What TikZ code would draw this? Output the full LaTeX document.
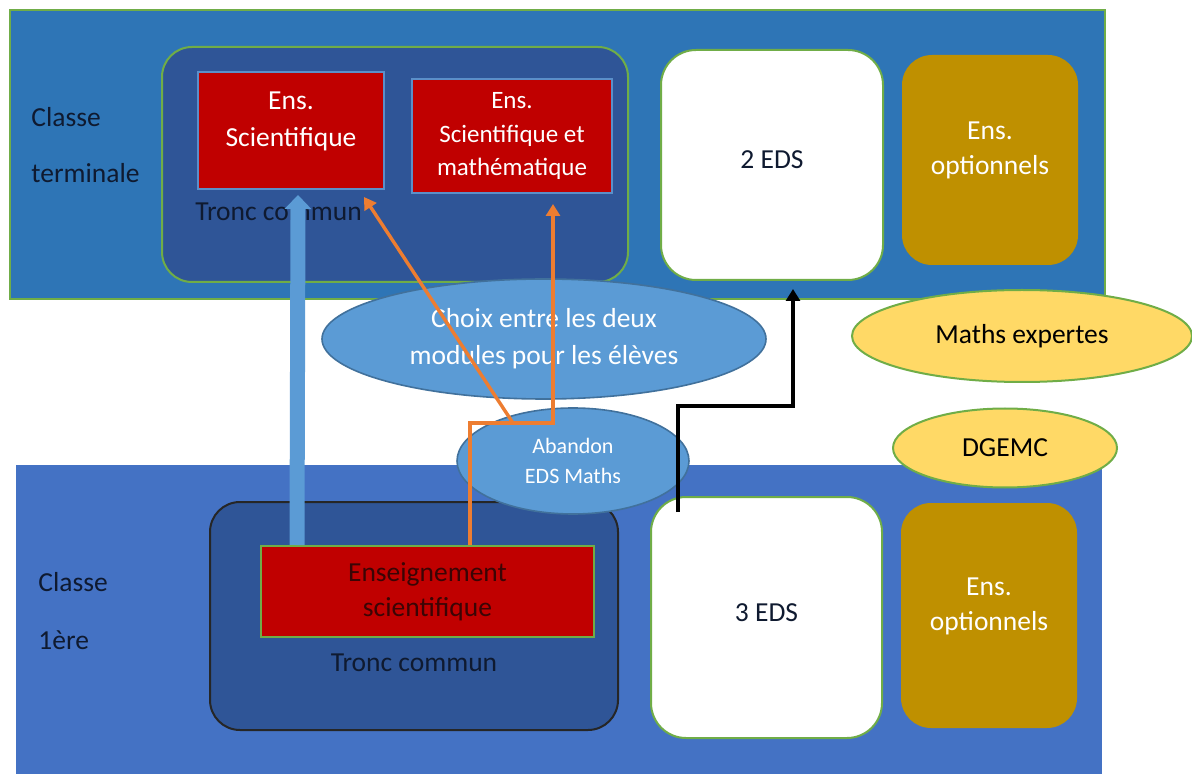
\documentclass[tikz,border=0pt]{standalone}
\usepackage{fontspec}
\setmainfont{Carlito}
\usetikzlibrary{shapes.geometric,arrows.meta}
\definecolor{topband}{HTML}{2E75B6}
\definecolor{botband}{HTML}{4472C4}
\definecolor{dkblue}{HTML}{2F5597}
\definecolor{myred}{HTML}{C00000}
\definecolor{mygold}{HTML}{BF9000}
\definecolor{ellblue}{HTML}{5B9BD5}
\definecolor{ellborder}{HTML}{41719C}
\definecolor{myyellow}{HTML}{FFD966}
\definecolor{mygreen}{HTML}{70AD47}
\definecolor{redborder}{HTML}{5B8FC9}
\definecolor{myorange}{HTML}{ED7D31}
\definecolor{darktext}{HTML}{0F1A30}
\definecolor{maroon}{HTML}{3A0505}
\tikzset{
  basefont/.style={font=\fontsize{13.75}{18.5}\selectfont},
  band/.style={rectangle, inner sep=0pt},
  cont/.style={rectangle, rounded corners=15pt, fill=dkblue, inner sep=0pt},
  redbox/.style={rectangle, fill=myred, draw=redborder, line width=1pt, inner sep=0pt, text=white, align=center},
  whitebox/.style={rectangle, fill=white, draw=mygreen, line width=1pt, rounded corners=17.5pt, inner sep=0pt, text=darktext},
  goldbox/.style={rectangle, fill=mygold, rounded corners=15pt, inner sep=0pt},
  blueell/.style={ellipse, fill=ellblue, draw=ellborder, line width=0.8pt, text=white, align=center, inner sep=0pt},
  yell/.style={ellipse, fill=myyellow, draw=mygreen, line width=1pt, text=black, inner sep=0pt},
  lbl/.style={text=darktext, inner sep=0pt},
  orng/.style={draw=myorange, line width=1.7pt, -{Triangle[width=7pt,length=6pt]}},
  blk/.style={draw=black, line width=1.6pt, -{Triangle[width=7pt,length=6pt]}},
  bluearrow/.style={draw=ellblue, line width=7.5pt, -{Triangle[width=13pt,length=7pt]}},
}
\begin{document}
\begin{tikzpicture}[x=0.5pt,y=-0.5pt,basefont]
\useasboundingbox (0,0) rectangle (1192,774);
\clip (0,0) rectangle (1192,774);
% bands
\node[band, fill=topband, draw=mygreen, line width=1pt, minimum width=547.5pt, minimum height=144.5pt] (top) at (557.5,154.5) {};
\node[band, fill=botband, minimum width=543pt, minimum height=155pt] (bot) at (559,620) {};
% class labels
\node[lbl, anchor=west] (ct1) at (31,117) {Classe};
\node[lbl, anchor=west] (ct2) at (31,173) {terminale};
\node[lbl, anchor=west] (cp1) at (38,582) {Classe};
\node[lbl, anchor=west] (cp2) at (38,640) {1ère};
% top container
\node[cont, draw=mygreen, line width=1pt, minimum width=233pt, minimum height=117.5pt] (tc) at (395,164.5) {};
\node[redbox, minimum width=93pt, minimum height=58.5pt,
      label={[name=red1t, text=white, align=center, yshift=4.5pt]center:Ens.\\Scientifique}] (red1) at (291,130.5) {};
\node[redbox, minimum width=100pt, minimum height=57pt,
      font=\fontsize{12.5}{16.5}\selectfont] (red2) at (512,136) {Ens.\\Scientifique et\\mathématique};
\node[lbl, anchor=west] (tct) at (195,212) {Tronc commun};
% top right boxes
\node[whitebox, minimum width=111pt, minimum height=115pt] (eds2) at (772,165) {\raisebox{5pt}{2 EDS}};
\node[goldbox, minimum width=88pt, minimum height=105pt,
      label={[name=opt1t, text=white, align=center, yshift=4.75pt, font=\fontsize{13.75}{17.5}\selectfont]center:Ens.\\optionnels}] (opt1) at (990,160) {};
% bottom container
\node[cont, draw=black!85, line width=1pt, minimum width=204pt, minimum height=114pt] (bc) at (414,616) {};
\node[redbox, draw=mygreen, text=maroon, minimum width=166.5pt, minimum height=45.5pt,
      font=\fontsize{13.75}{17.5}\selectfont] (redB) at (427.5,591.5) {Enseignement\\scientifique};
\node[lbl] (bct) at (414,663) {Tronc commun};
\node[whitebox, minimum width=115.5pt, minimum height=120.5pt] (eds3) at (766.5,617.5) {\raisebox{4.75pt}{3 EDS}};
\node[goldbox, minimum width=88pt, minimum height=112.5pt,
      label={[name=opt2t, text=white, align=center, yshift=4.5pt, font=\fontsize{13.75}{17.5}\selectfont]center:Ens.\\optionnels}] (opt2) at (989,615.5) {};
% ellipses
\node[blueell, minimum width=222pt, minimum height=60pt] (choix) at (544,339) {Choix entre les deux\\modules pour les élèves};
\node[blueell, minimum width=116pt, minimum height=53pt, font=\fontsize{11}{15}\selectfont] (aband) at (573,461) {Abandon\\EDS Maths};
\node[yell, minimum width=170pt, minimum height=46pt] (mexp) at (1022,336) {Maths expertes};
\node[yell, minimum width=112pt, minimum height=39.5pt] (dgemc) at (1005,448) {DGEMC};
% connectors
\coordinate (j2) at (553,423);
\coordinate (j3) at (513,423);
\coordinate (b2) at (793,406);
\draw[bluearrow] ([xshift=18.5pt]redB.north west) -- ([xshift=3.5pt,yshift=-2.5pt]red1.south);
\draw[orng] ([xshift=21.25pt]redB.north) |- (j2) -- ([xshift=20.5pt,yshift=-5pt]red2.south);
\draw[orng] (j3) -- ([xshift=-10.5pt,yshift=-3.5pt]red1.south east);
\draw[blk] ([xshift=-44.25pt,yshift=-8pt]eds3.north) |- (b2) -- ([xshift=10.5pt,yshift=-4pt]eds2.south);
\end{tikzpicture}
\end{document}
